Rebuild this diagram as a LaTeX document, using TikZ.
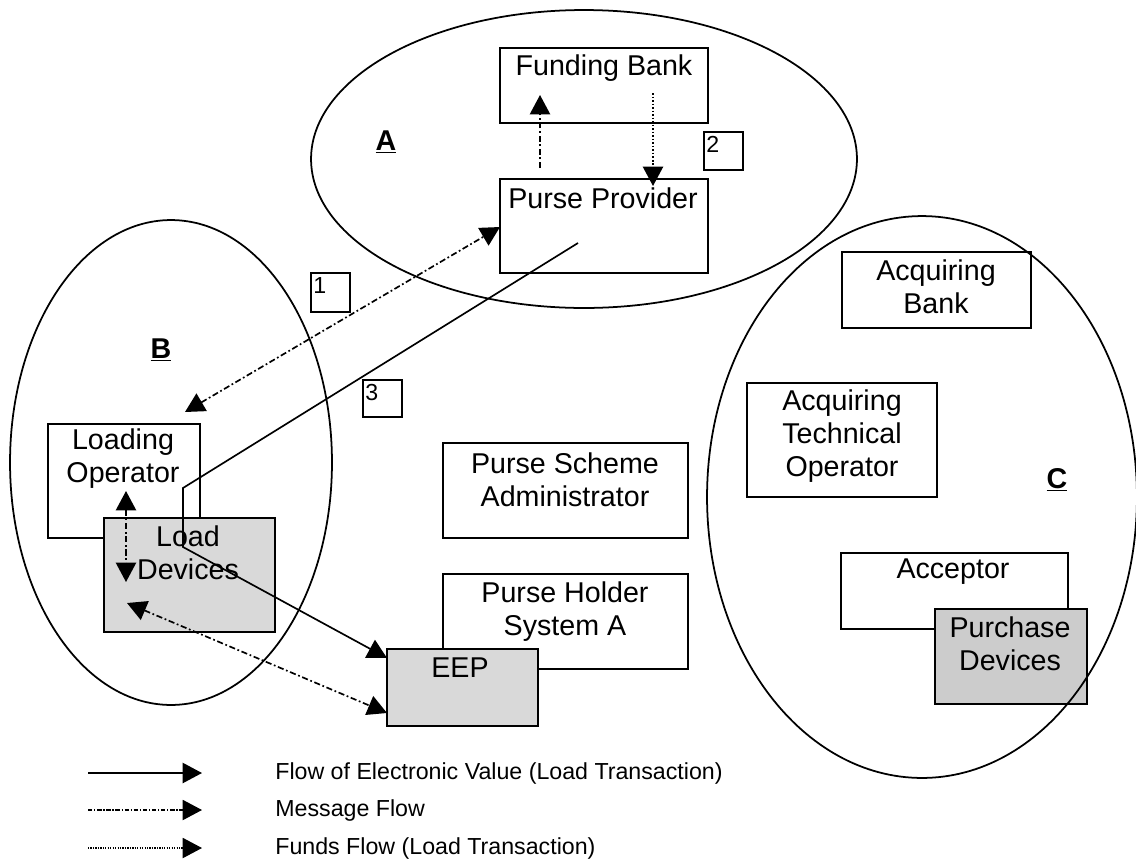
\documentclass[tikz,border=0pt]{standalone}
\usepackage{fontspec}
\setmainfont{Liberation Sans}
\usetikzlibrary{arrows.meta,fit,calc}
\definecolor{lightgrey}{HTML}{D9D9D9}
\definecolor{midgrey}{HTML}{CCCCCC}
\begin{document}
\begin{tikzpicture}[x=0.02cm,y=-0.02cm,
  box/.style={draw,line width=0.7pt,fill=white,inner sep=0pt},
  greybox/.style={box,fill=lightgrey},
  darkbox/.style={box,fill=midgrey},
  numbox/.style={draw,line width=0.9pt,inner sep=0pt},
  txt/.style={font=\fontsize{16.3}{18.7}\selectfont,align=center,inner sep=0pt},
  small/.style={font=\fontsize{13.2}{15}\selectfont,inner sep=0pt},
  grp/.style={font=\fontsize{16.3}{18.7}\selectfont\bfseries,inner sep=0pt},
  ell/.style={draw,line width=1pt},
  value/.style={line width=0.95pt,-{Triangle[length=11pt,width=11.5pt]}},
  msg/.style={line width=0.95pt,dash pattern=on 3.5pt off 1.5pt on 1pt off 1.5pt},
  funds/.style={line width=0.95pt,dash pattern=on 1pt off 1pt},
]
\useasboundingbox (0,0) rectangle (1136,866);

% boxes
\node[box,fit={(500,48) (708,123)}] (fb) {};
\node[txt] at (604,68) {Funding Bank};
\node[box,fit={(500,179) (708,273)}] (pp) {};
\node[txt] at (603,198) {Purse Provider};
\node[numbox,fit={(704,132) (743,170)}] (n2) {};
\node[small,anchor=north west] at (706,136) {2};
\node[numbox,fit={(311,273) (350,312)}] (n1) {};
\node[small,anchor=north west] at (313,277) {1};
\node[numbox,fit={(363,380) (402,417)}] (n3) {};
\node[small,anchor=north west] at (365,384) {3};

\node[box,fit={(842,252) (1031,328)}] (ab) {};
\node[txt] at (936,287) {Acquiring\\Bank};
\node[box,fit={(747,383) (937,497)}] (ato) {};
\node[txt] at (842,436) {Acquiring\\Technical\\Operator};
\node[box,fit={(443,443) (688,538)}] (psa) {};
\node[txt] at (565,480) {Purse Scheme\\Administrator};
\node[box,fit={(443,574) (688,669)}] (phs) {};
\node[txt] at (565,612) {Purse Holder\\System A};
\node[greybox,fit={(387,649) (538,726)}] (eep) {};
\node[txt] at (460,668) {EEP};

\node[box,fit={(48,424) (200,538)}] (lo) {};
\node[txt] at (123,459) {Loading\\Operator};
\node[greybox,fit={(104,518) (275,632)}] (ld) {};
\node[txt] at (188,553) {Load\\Devices};

\node[box,fit={(841,553) (1068,629)}] (acc) {};
\node[txt] at (953,572) {Acceptor};
\node[darkbox,fit={(935,609) (1087,704)}] (pd) {};
\node[txt] at (1010,644) {Purchase\\Devices};

% group labels
\node[grp] at (386,142) {\underline{A}};
\node[grp] at (161,350) {\underline{B}};
\node[grp] at (1057,480) {\underline{C}};

% ellipses
\draw[ell] (584,159) ellipse [x radius=5.46cm, y radius=2.98cm];
\draw[ell] (171,462.5) ellipse [x radius=3.22cm, y radius=4.85cm];
\draw[ell] (922,497) ellipse [x radius=4.3cm, y radius=5.62cm];

% connector end points
\coordinate (fbUp) at (540,95);
\coordinate (ppUp) at (540,168);
\coordinate (fbDn) at (653,93);
\coordinate (ppDn) at (653,186);
\coordinate (ppMsg) at (500,227);
\coordinate (loMsg) at (185,412);
\coordinate (ppVal) at (578,243);
\coordinate (bend1) at (183,488);
\coordinate (bend2) at (183,547);
\coordinate (eepVal) at (387,658);
\coordinate (loV) at (126,491);
\coordinate (ldV) at (126,582);
\coordinate (ldMsg) at (127,603);
\coordinate (eepMsg) at (387,713);

% connectors
\draw[msg,-{Triangle[length=11pt,width=11.5pt]}] (ppUp) -- (fbUp);
\draw[funds,-{Triangle[length=11pt,width=11.5pt]}] (fbDn) -- (ppDn);
\draw[msg,{Triangle[length=11pt,width=11.5pt]}-{Triangle[length=11pt,width=11.5pt]}] (loMsg) -- (ppMsg);
\draw[value] (ppVal) -- (bend1) -- (bend2) -- (eepVal);
\draw[msg,{Triangle[length=11pt,width=11.5pt]}-{Triangle[length=11pt,width=11.5pt]}] (loV) -- (ldV);
\draw[msg,{Triangle[length=11pt,width=11.5pt]}-{Triangle[length=11pt,width=11.5pt]}] (ldMsg) -- (eepMsg);

% legend
\coordinate (l1a) at (88,773); \coordinate (l1b) at (202,773);
\coordinate (l2a) at (88,810); \coordinate (l2b) at (202,810);
\coordinate (l3a) at (88,848); \coordinate (l3b) at (202,848);
\draw[value] (l1a) -- (l1b);
\draw[msg,line width=0.7pt,dash pattern=on 2.5pt off 1pt on 0.7pt off 1pt,-{Triangle[length=11pt,width=11.5pt]}] (l2a) -- (l2b);
\draw[funds,line width=0.7pt,dash pattern=on 0.7pt off 0.7pt,-{Triangle[length=11pt,width=11.5pt]}] (l3a) -- (l3b);
\node[small,anchor=west] (t1) at (275,773) {Flow of Electronic Value (Load Transaction)};
\node[small,anchor=west] (t2) at (275,810) {Message Flow};
\node[small,anchor=west] (t3) at (275,848) {Funds Flow (Load Transaction)};
\end{tikzpicture}
\end{document}
